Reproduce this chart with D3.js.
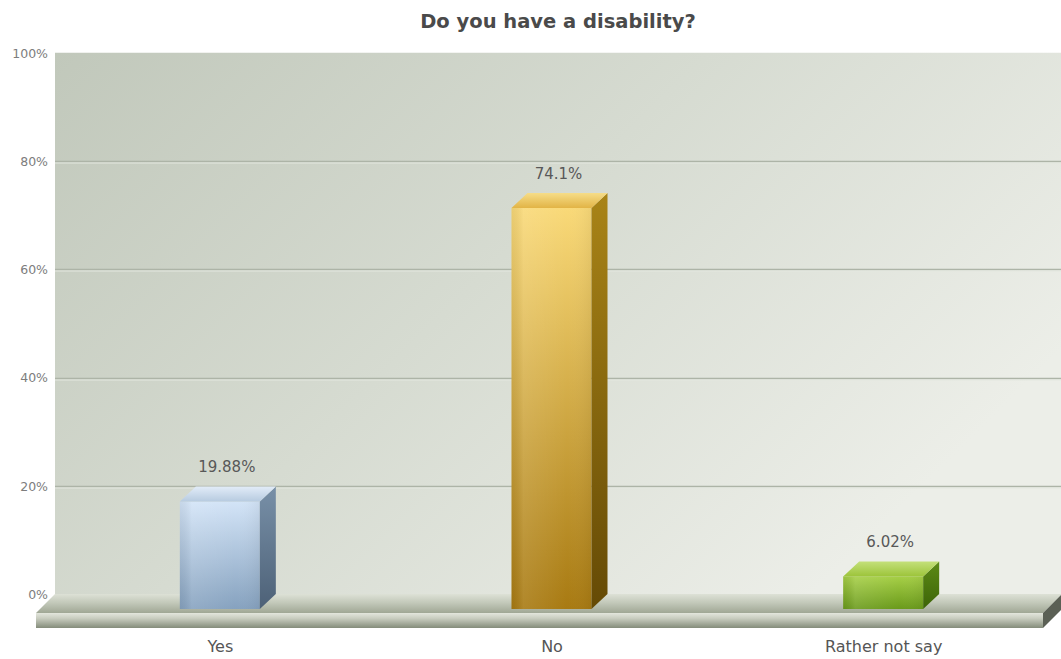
<!DOCTYPE html>
<html>
<head>
<meta charset="utf-8">
<script src="https://cdn.jsdelivr.net/npm/d3@7/dist/d3.min.js"></script>
<style>
  html, body { margin: 0; padding: 0; background: #ffffff; }
  svg { display: block; }
  text { font-family: "DejaVu Sans", Verdana, sans-serif; }
</style>
</head>
<body>
<svg id="chart" width="1061" height="659"></svg>
<script>
// Survey results
const categories = ["Yes", "No", "Rather not say"];
const values = [19.88, 74.1, 6.02];
const valueLabels = ["19.88%", "74.1%", "6.02%"];
const yTicks = [0, 20, 40, 60, 80, 100];
const chartTitle = "Do you have a disability?";

// Bar colour sets: front (top, bottom), side (top, bottom), top face (back, front)
const palette = [
  { front: ["#d3e4f7", "#86a2bf"], side: ["#7890a8", "#4d6177"], top: ["#e2ecf8", "#b7cbe0"] },
  { front: ["#f9d978", "#a87a12"], side: ["#a98417", "#654a05"], top: ["#f6dd88", "#e2b446"] },
  { front: ["#a6cf46", "#6a9a1b"], side: ["#5c8a16", "#3d6408"], top: ["#c4e07a", "#9cc43a"] }
];

const svg = d3.select("#chart");

// 3D geometry: back wall plane and the depth offset to the floor's front edge
const wall = { left: 55, right: 1062, top: 52.75, bottom: 594 };
const floorDepth = { dx: -19, dy: 19 };
const floorThickness = 15;
const barDepth = { dx: 16, dy: -15 };
const barWidth = 80;

const y = d3.scaleLinear().domain([0, 100]).range([wall.bottom, wall.top]);
const x = d3.scalePoint().domain(categories).range([54, 1049]).padding(0.5);

const defs = svg.append("defs");
function linGrad(id, stops, x1, y1, x2, y2) {
  const g = defs.append("linearGradient").attr("id", id)
    .attr("x1", x1).attr("y1", y1).attr("x2", x2).attr("y2", y2);
  stops.forEach(s => g.append("stop").attr("offset", s[0]).attr("stop-color", s[1]));
  return "url(#" + id + ")";
}

// Back wall
const wallFill = linGrad("wallGrad", [[0, "#c1c8bb"], [0.5, "#d6dbd1"], [1, "#eceee8"]], 0, 0, 1, 0.55);
svg.append("rect")
  .attr("x", wall.left).attr("y", wall.top)
  .attr("width", wall.right - wall.left).attr("height", wall.bottom - wall.top)
  .attr("fill", wallFill);

// Horizontal grid lines on the wall
const grid = svg.append("g");
yTicks.filter(t => t > 0 && t < 100).forEach(t => {
  grid.append("line")
    .attr("x1", wall.left).attr("x2", wall.right)
    .attr("y1", Math.round(y(t)) + 0.5).attr("y2", Math.round(y(t)) + 0.5)
    .attr("stroke", "#adb4a7").attr("stroke-width", 1.4);
  grid.append("line")
    .attr("x1", wall.left).attr("x2", wall.right)
    .attr("y1", Math.round(y(t)) + 2).attr("y2", Math.round(y(t)) + 2)
    .attr("stroke", "#e4e8e0").attr("stroke-width", 1);
});

// Y axis labels
const yAxis = d3.axisLeft(y).tickValues(yTicks).tickFormat(d => d + "%").tickSize(0).tickPadding(0);
const yg = svg.append("g").attr("transform", "translate(48,0)").call(yAxis);
yg.select(".domain").remove();
yg.selectAll("text").attr("fill", "#7d7d7d").attr("font-size", 12.5)
  .attr("font-family", "DejaVu Sans, Verdana, sans-serif").attr("dy", "0.35em");

// Floor slab
const floor = svg.append("g");
const fl = wall.left, fr = wall.right, fb = wall.bottom;
const ftY = fb + floorDepth.dy;
floor.append("path")
  .attr("d", `M${fl},${fb} L${fr},${fb} L${fr + floorDepth.dx},${ftY} L${fl + floorDepth.dx},${ftY} Z`)
  .attr("fill", linGrad("floorTop", [[0, "#dde1d6"], [0.45, "#c3c9ba"], [1, "#a0a795"]], 0, 0, 0, 1));
floor.append("rect")
  .attr("x", fl + floorDepth.dx).attr("y", ftY)
  .attr("width", fr - fl).attr("height", floorThickness)
  .attr("fill", linGrad("floorFront", [[0, "#e3e6dd"], [0.35, "#c9cdc0"], [1, "#848c7a"]], 0, 0, 0, 1));
floor.append("path")
  .attr("d", `M${fr + floorDepth.dx},${ftY} L${fr},${fb} L${fr},${fb + floorThickness} L${fr + floorDepth.dx},${ftY + floorThickness} Z`)
  .attr("fill", "#5b6055");

// Bars
const bars = svg.append("g");
categories.forEach((c, i) => {
  const p = palette[i];
  const cx = x(c);
  const fx0 = cx - barWidth / 2, fx1 = cx + barWidth / 2;
  const fyTop = y(values[i]) - barDepth.dy;
  const fyBot = wall.bottom - barDepth.dy;
  const g = bars.append("g");
  // front face
  g.append("rect")
    .attr("x", fx0).attr("y", fyTop).attr("width", barWidth).attr("height", fyBot - fyTop)
    .attr("fill", linGrad("front" + i, [[0, p.front[0]], [1, p.front[1]]], 0, 0, 0, 1));
  // soft vertical shading across the front
  g.append("rect")
    .attr("x", fx0).attr("y", fyTop).attr("width", barWidth).attr("height", fyBot - fyTop)
    .attr("fill", linGrad("frontShade" + i, [[0, "rgba(0,0,0,0.06)"], [0.15, "rgba(255,255,255,0.10)"], [0.7, "rgba(255,255,255,0)"], [1, "rgba(0,0,0,0.05)"]], 0, 0, 1, 0));
  // side face
  g.append("path")
    .attr("d", `M${fx1},${fyTop} L${fx1 + barDepth.dx},${fyTop + barDepth.dy} L${fx1 + barDepth.dx},${fyBot + barDepth.dy} L${fx1},${fyBot} Z`)
    .attr("fill", linGrad("side" + i, [[0, p.side[0]], [1, p.side[1]]], 0, 0, 0, 1));
  // top face
  g.append("path")
    .attr("d", `M${fx0},${fyTop} L${fx0 + barDepth.dx},${fyTop + barDepth.dy} L${fx1 + barDepth.dx},${fyTop + barDepth.dy} L${fx1},${fyTop} Z`)
    .attr("fill", linGrad("top" + i, [[0, p.top[0]], [1, p.top[1]]], 0, 0, 0, 1));
  // value label
  g.append("text")
    .attr("x", cx + 7).attr("y", y(values[i]) - 14)
    .attr("text-anchor", "middle").attr("font-size", 15).attr("fill", "#585858")
    .text(valueLabels[i]);
});

// Category axis labels
const xAxis = d3.axisBottom(x).tickSize(0).tickPadding(0);
const xg = svg.append("g").attr("transform", "translate(0,640)").call(xAxis);
xg.select(".domain").remove();
xg.selectAll("text").attr("fill", "#555").attr("font-size", 16)
  .attr("font-family", "DejaVu Sans, Verdana, sans-serif").attr("dy", "0.75em");

// Title
svg.append("text")
  .attr("x", 558).attr("y", 28)
  .attr("text-anchor", "middle").attr("font-size", 19.5).attr("font-weight", "bold")
  .attr("fill", "#4a4a4a")
  .text(chartTitle);
</script>
</body>
</html>
